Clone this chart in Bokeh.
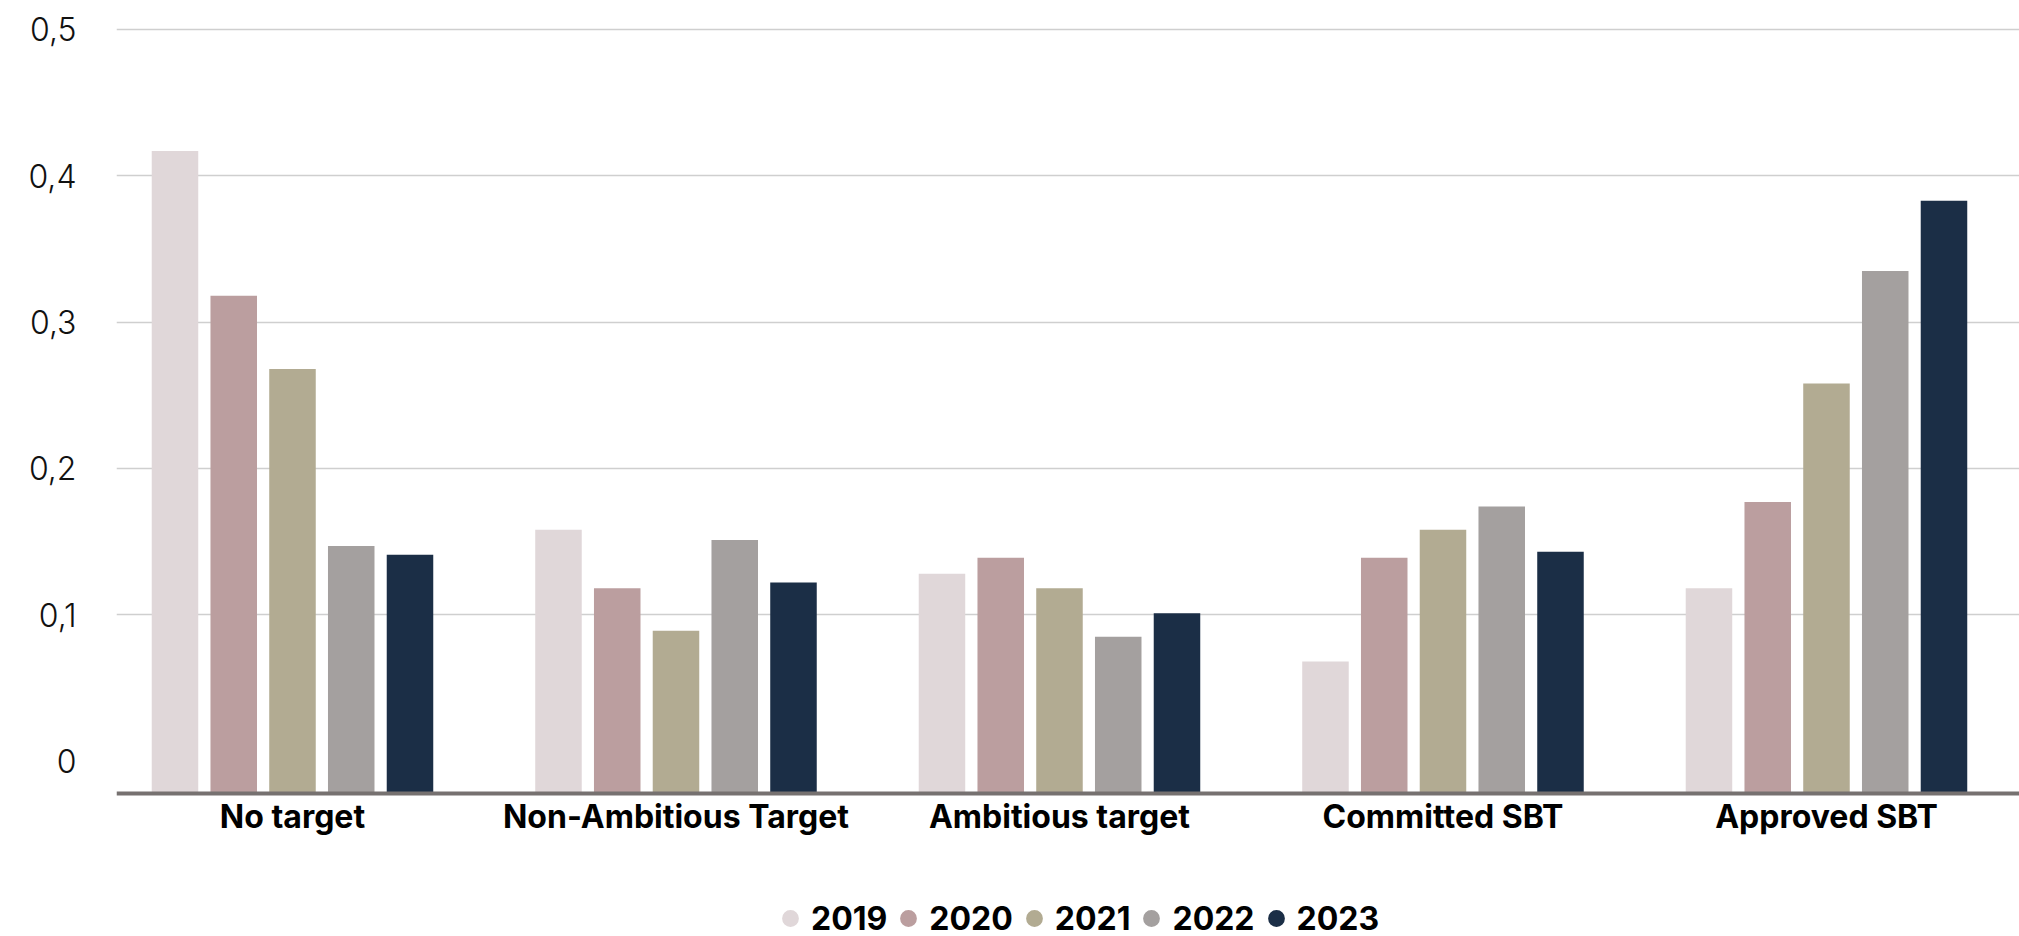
from bokeh.plotting import figure
from bokeh.models import (ColumnDataSource, Range1d, FixedTicker, CustomJSTickFormatter,
                          Legend, LegendItem)
from bokeh.embed import file_html
from bokeh.resources import INLINE

categories = ["No target", "Non-Ambitious Target", "Ambitious target", "Committed SBT", "Approved SBT"]
years = ["2019", "2020", "2021", "2022", "2023"]
v2019 = [0.417, 0.158, 0.128, 0.068, 0.118]
v2020 = [0.318, 0.118, 0.139, 0.139, 0.177]
v2021 = [0.268, 0.089, 0.118, 0.158, 0.258]
v2022 = [0.147, 0.151, 0.085, 0.174, 0.335]
v2023 = [0.141, 0.122, 0.101, 0.143, 0.383]
series = [v2019, v2020, v2021, v2022, v2023]
colors = ["#e0d7d9", "#bb9e9f", "#b2ab92", "#a4a09f", "#1b2e46"]
y_ticks = [0, 0.1, 0.2, 0.3, 0.4, 0.5]

BASE = -0.0222          # where the bars start and the category axis sits
Y_START = -0.11996      # frame reaches the bottom of the page (room for labels + legend)
Y_END = 0.51025
FONT = "Inter"

p = figure(width=2019, height=936, output_backend="svg", toolbar_location=None,
           x_range=Range1d(-0.4589, 4.5033), y_range=Range1d(Y_START, Y_END),
           min_border_left=116, min_border_right=0, min_border_top=14, min_border_bottom=0)
p.outline_line_color = None
p.background_fill_color = "white"
p.border_fill_color = "white"

offset = 0.1532
bw = 0.1213
items = []
for j, (yr, vals, c) in enumerate(zip(years, series, colors)):
    xs = [i + (j - 2) * offset for i in range(len(categories))]
    src = ColumnDataSource(dict(x=xs, top=vals))
    p.vbar(x="x", top="top", bottom=BASE, width=bw, source=src,
           fill_color=c, line_color=None)
    # zero-size markers on the same data: they only provide the round legend swatch
    r = p.scatter(x="x", y="top", source=src, marker="circle", size=0,
                  fill_color=c, line_color=None)
    items.append(LegendItem(label=yr, renderers=[r]))

# y axis
p.yaxis.ticker = FixedTicker(ticks=y_ticks)
p.yaxis.formatter = CustomJSTickFormatter(code="return tick == 0 ? '0' : tick.toFixed(1).replace('.', ',');")
p.yaxis.axis_line_color = None
p.yaxis.major_tick_line_color = None
p.yaxis.minor_tick_line_color = None
p.yaxis.major_tick_out = 0
p.yaxis.major_label_standoff = 40
p.yaxis.major_label_text_font = "'Inter Light', Inter"
p.yaxis.major_label_text_font_size = "32px"
p.yaxis.major_label_text_color = "#111111"

p.ygrid.ticker = FixedTicker(ticks=y_ticks[1:])
p.ygrid.grid_line_color = "#cfcfcf"
p.ygrid.grid_line_width = 1.5
p.xgrid.grid_line_color = None

# x axis, drawn at the bars' base
p.xaxis.fixed_location = BASE
p.xaxis.ticker = FixedTicker(ticks=list(range(len(categories))))
p.xaxis.major_label_overrides = {i: c for i, c in enumerate(categories)}
p.xaxis.axis_line_color = "#767170"
p.xaxis.axis_line_width = 4
p.xaxis.major_tick_line_color = None
p.xaxis.minor_tick_line_color = None
p.xaxis.major_tick_out = 0
p.xaxis.major_label_standoff = 4
p.xaxis.major_label_text_font = FONT
p.xaxis.major_label_text_font_style = "bold"
p.xaxis.major_label_text_font_size = "32px"
p.xaxis.major_label_text_color = "#000000"

legend = Legend(items=items, orientation="horizontal", location=(653, -3),
                glyph_width=42, glyph_height=42, label_standoff=0, spacing=0,
                padding=0, margin=0, border_line_color=None, background_fill_alpha=0,
                label_text_font=FONT, label_text_font_style="bold",
                label_text_font_size="32px", label_text_color="#000000")
p.add_layout(legend, "center")

open("out.html", "w").write(file_html(p, INLINE))
